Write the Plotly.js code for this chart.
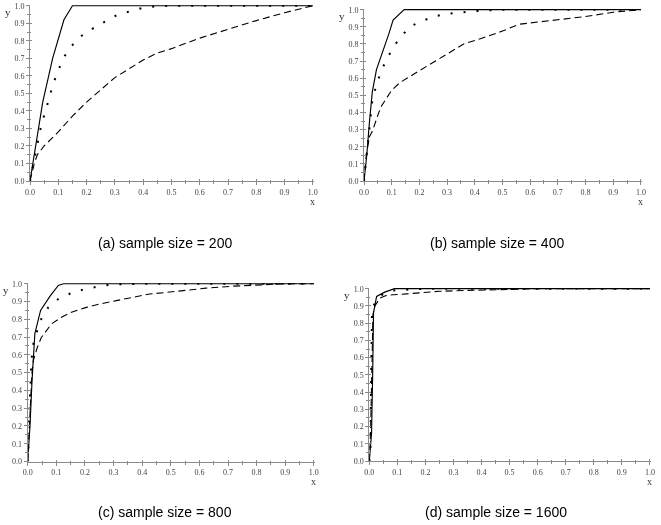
<!DOCTYPE html>
<html>
<head>
<meta charset="utf-8">
<script src="https://cdn.plot.ly/plotly-3.0.1.min.js"></script>
<style>html,body{margin:0;padding:0;background:#fff;}#chart{width:661px;height:525px;filter:grayscale(1);}</style>
</head>
<body>
<div id="chart"></div>
<script>
// ---- data ----
const captions = ["(a) sample size = 200", "(b) sample size = 400", "(c) sample size = 800", "(d) sample size = 1600"];
const tickVals = [0, 0.1, 0.2, 0.3, 0.4, 0.5, 0.6, 0.7, 0.8, 0.9, 1.0];
const tickText = ["0.0", "0.1", "0.2", "0.3", "0.4", "0.5", "0.6", "0.7", "0.8", "0.9", "1.0"];

// (a) sample size = 200
const aSolidX = [0, 0.045, 0.08, 0.12, 0.15, 1.0];
const aSolidY = [0, 0.45, 0.70, 0.92, 1.0, 1.0];
const aDotX = [0, 0.01, 0.02, 0.04, 0.055, 0.068, 0.082, 0.10, 0.117, 0.147, 0.18, 0.223, 0.265, 0.307, 0.358, 0.404, 0.45, 0.5, 0.6, 0.7, 0.8, 0.9, 1.0];
const aDotY = [0, 0.08, 0.17, 0.32, 0.40, 0.47, 0.555, 0.63, 0.70, 0.77, 0.826, 0.871, 0.909, 0.947, 0.97, 0.99, 0.997, 1.0, 1.0, 1.0, 1.0, 1.0, 1.0];
const aDashX = [0, 0.015, 0.026, 0.05, 0.1, 0.15, 0.2, 0.25, 0.3, 0.35, 0.4, 0.45, 0.5, 0.6, 0.7, 0.8, 0.9, 1.0];
const aDashY = [0, 0.10, 0.15, 0.20, 0.28, 0.37, 0.45, 0.52, 0.59, 0.64, 0.69, 0.73, 0.755, 0.815, 0.865, 0.915, 0.96, 1.0];

// (b) sample size = 400
const bSolidX = [0, 0.01, 0.02, 0.03, 0.045, 0.07, 0.09, 0.105, 0.145, 1.0];
const bSolidY = [0, 0.15, 0.35, 0.52, 0.65, 0.76, 0.86, 0.94, 1.0, 1.0];
const bDotX = [0, 0.005, 0.01, 0.02, 0.031, 0.046, 0.061, 0.082, 0.105, 0.135, 0.168, 0.213, 0.259, 0.307, 0.357, 0.405, 0.453, 0.5, 0.6, 0.7, 0.8, 0.9, 1.0];
const bDotY = [0, 0.083, 0.17, 0.326, 0.485, 0.562, 0.64, 0.709, 0.781, 0.845, 0.903, 0.936, 0.963, 0.977, 0.985, 0.992, 0.996, 1.0, 1.0, 1.0, 1.0, 1.0, 1.0];
const bDashX = [0, 0.008, 0.02, 0.03, 0.045, 0.06, 0.08, 0.1, 0.13, 0.17, 0.21, 0.26, 0.3, 0.36, 0.42, 0.5, 0.56, 0.62, 0.72, 0.8, 0.9, 1.0];
const bDashY = [0, 0.15, 0.26, 0.29, 0.36, 0.43, 0.48, 0.53, 0.575, 0.615, 0.655, 0.70, 0.74, 0.80, 0.83, 0.875, 0.915, 0.925, 0.945, 0.96, 0.985, 1.0];

// (c) sample size = 800
const cSolidX = [0, 0.008, 0.015, 0.025, 0.045, 0.078, 0.107, 0.125, 1.0];
const cSolidY = [0, 0.20, 0.45, 0.72, 0.85, 0.93, 0.99, 1.0, 1.0];
const cDotX = [0, 0.003, 0.007, 0.01, 0.013, 0.017, 0.043, 0.072, 0.107, 0.153, 0.2, 0.25, 0.296, 0.4, 0.5, 0.6, 0.7, 0.8, 0.9, 1.0];
const cDotY = [0, 0.10, 0.32, 0.49, 0.56, 0.647, 0.79, 0.867, 0.914, 0.948, 0.97, 0.985, 0.996, 1.0, 1.0, 1.0, 1.0, 1.0, 1.0, 1.0];
const cDashX = [0, 0.005, 0.01, 0.015, 0.02, 0.032, 0.047, 0.065, 0.083, 0.118, 0.153, 0.205, 0.252, 0.31, 0.368, 0.426, 0.484, 0.554, 0.623, 0.716, 0.797, 0.89, 1.0];
const cDashY = [0, 0.20, 0.40, 0.50, 0.57, 0.634, 0.696, 0.737, 0.774, 0.811, 0.84, 0.867, 0.886, 0.905, 0.923, 0.942, 0.951, 0.964, 0.975, 0.986, 0.994, 0.999, 1.0];

// (d) sample size = 1600
const dSolidX = [0, 0.008, 0.012, 0.015, 0.026, 0.055, 0.09, 1.0];
const dSolidY = [0, 0.16, 0.50, 0.86, 0.955, 0.98, 1.0, 1.0];
const dDotX = [0, 0.004, 0.006, 0.008, 0.0099, 0.026, 0.05, 0.085, 0.13, 0.2, 0.3, 0.4, 0.5, 0.6, 0.7, 0.8, 0.9, 1.0];
const dDotY = [0, 0.06, 0.40, 0.65, 0.88, 0.94, 0.97, 0.99, 0.995, 1.0, 1.0, 1.0, 1.0, 1.0, 1.0, 1.0, 1.0, 1.0];
const dDashX = [0, 0.005, 0.01, 0.013, 0.02, 0.038, 0.06, 0.085, 0.134, 0.165, 0.25, 0.35, 0.45, 0.6, 1.0];
const dDashY = [0, 0.20, 0.60, 0.85, 0.90, 0.946, 0.96, 0.965, 0.97, 0.975, 0.985, 0.99, 0.995, 1.0, 1.0];

// ---- layout geometry (pixels) ----
const W = 661, H = 525;
const panels = [
  {x0: 30, x1: 314, yTop: 5, yBot: 181, capX: 165, capY: 243,
   sx: aSolidX, sy: aSolidY, px: aDotX, py: aDotY, dx: aDashX, dy: aDashY},
  {x0: 364, x1: 642, yTop: 9, yBot: 181, capX: 497, capY: 243,
   sx: bSolidX, sy: bSolidY, px: bDotX, py: bDotY, dx: bDashX, dy: bDashY},
  {x0: 27.7, x1: 315, yTop: 283, yBot: 461.5, capX: 165, capY: 512,
   sx: cSolidX, sy: cSolidY, px: cDotX, py: cDotY, dx: cDashX, dy: cDashY},
  {x0: 369.3, x1: 651, yTop: 288, yBot: 461, capX: 496, capY: 512,
   sx: dSolidX, sy: dSolidY, px: dDotX, py: dDotY, dx: dDashX, dy: dDashY}
];

const traces = [];
const layout = {
  width: W, height: H,
  margin: {l: 0, r: 0, t: 0, b: 0},
  paper_bgcolor: '#fff', plot_bgcolor: 'rgba(0,0,0,0)',
  showlegend: false,
  annotations: []
};

const serif = 'Liberation Serif, Times New Roman, serif';
const tickFont = {family: serif, size: 8, color: '#444'};
const axisColor = '#8a8a8a';
const RANGE = [0, 1.004];

panels.forEach((p, i) => {
  const n = i + 1;
  const sfx = n === 1 ? '' : String(n);
  const xa = 'x' + sfx, ya = 'y' + sfx;
  const xKey = 'xaxis' + sfx, yKey = 'yaxis' + sfx;
  // overlay axes (inside ticks) so the ticks cross the axis line
  const on = n + 4;
  const xo = 'x' + on, yo = 'y' + on;
  const base = {
    range: RANGE, showgrid: false, zeroline: false, fixedrange: true,
    tickvals: tickVals, ticktext: tickText, tickfont: tickFont,
    tickcolor: axisColor, tickwidth: 1
  };
  const xDom = [p.x0 / W, p.x1 / W];
  const yDom = [(H - p.yBot) / H, (H - p.yTop) / H];
  layout[xKey] = Object.assign({}, base, {
    domain: xDom, anchor: ya, showline: true, linecolor: axisColor, linewidth: 1,
    ticks: 'outside', ticklen: 3,
    minor: {dtick: 0.05, tick0: 0, ticks: 'outside', ticklen: 2, tickcolor: axisColor}
  });
  layout[yKey] = Object.assign({}, base, {
    domain: yDom, anchor: xa, showline: true, linecolor: axisColor, linewidth: 1,
    ticks: 'outside', ticklen: 3,
    minor: {dtick: 0.05, tick0: 0, ticks: 'outside', ticklen: 2, tickcolor: axisColor}
  });
  layout['xaxis' + on] = Object.assign({}, base, {
    overlaying: xa, anchor: ya, side: 'bottom', showline: false, showticklabels: false,
    ticks: 'inside', ticklen: 2,
    minor: {dtick: 0.05, tick0: 0, ticks: 'inside', ticklen: 1, tickcolor: axisColor}
  });
  layout['yaxis' + on] = Object.assign({}, base, {
    overlaying: ya, anchor: xa, side: 'left', showline: false, showticklabels: false,
    ticks: 'inside', ticklen: 2,
    minor: {dtick: 0.05, tick0: 0, ticks: 'inside', ticklen: 1, tickcolor: axisColor}
  });
  traces.push({x: [null], y: [null], xaxis: xo, yaxis: ya, mode: 'lines', hoverinfo: 'skip'});
  traces.push({x: [null], y: [null], xaxis: xa, yaxis: yo, mode: 'lines', hoverinfo: 'skip'});

  traces.push({x: p.dx, y: p.dy, xaxis: xa, yaxis: ya, mode: 'lines', hoverinfo: 'skip',
    line: {color: '#000', width: 1.1, dash: '7px,4px'}});
  traces.push({x: p.px, y: p.py, xaxis: xa, yaxis: ya, mode: 'lines', hoverinfo: 'skip',
    line: {color: '#000', width: 2, dash: '2px,11px'}});
  traces.push({x: p.sx, y: p.sy, xaxis: xa, yaxis: ya, mode: 'lines', hoverinfo: 'skip',
    line: {color: '#000', width: 1.15}});
  // axis letters
  layout.annotations.push({xref: 'paper', yref: 'paper', x: (p.x1 - 2) / W, y: (H - p.yBot - 20) / H,
    text: 'x', showarrow: false, xanchor: 'center', yanchor: 'middle',
    font: {family: serif, size: 10, color: '#333'}});
  layout.annotations.push({xref: 'paper', yref: 'paper', x: (p.x0 - 22) / W, y: (H - p.yTop - 7) / H,
    text: 'y', showarrow: false, xanchor: 'center', yanchor: 'middle',
    font: {family: serif, size: 11, color: '#333'}});
  // caption
  layout.annotations.push({xref: 'paper', yref: 'paper', x: p.capX / W, y: (H - p.capY) / H,
    text: captions[i], showarrow: false, xanchor: 'center', yanchor: 'middle',
    font: {family: 'Liberation Sans, Arial, sans-serif', size: 14, color: '#000'}});
});

Plotly.newPlot('chart', traces, layout, {staticPlot: true, displayModeBar: false});
</script>
</body>
</html>
